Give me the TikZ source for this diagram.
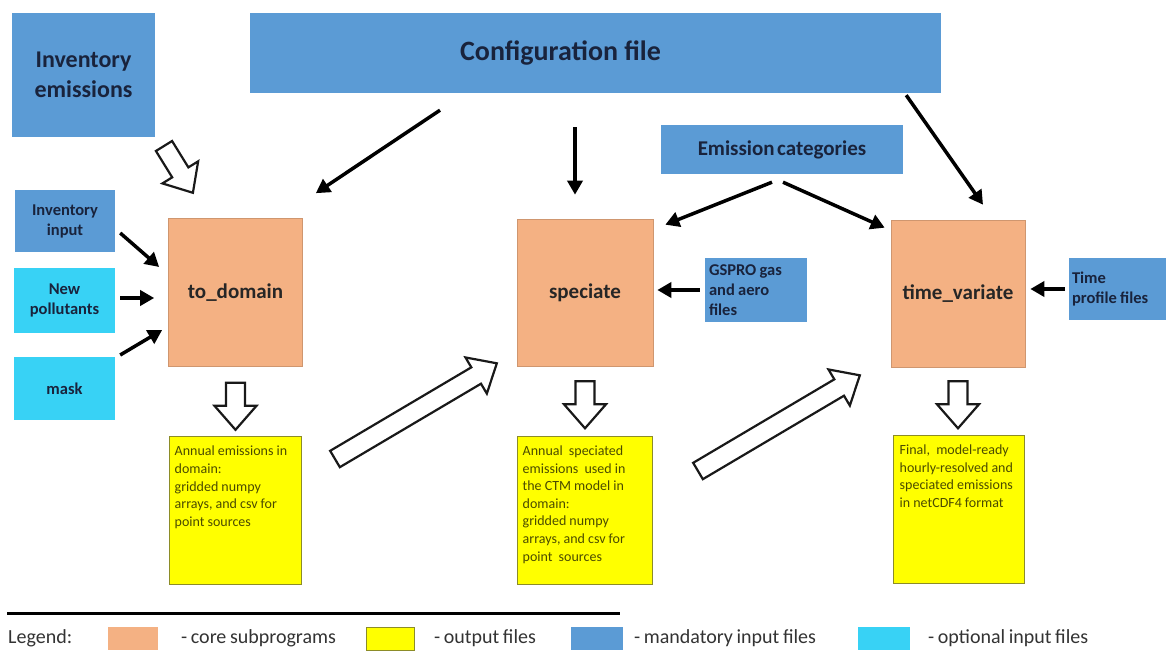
\documentclass[tikz,border=0pt]{standalone}
\usepackage{fontspec}
\setmainfont{Carlito}
\usetikzlibrary{arrows.meta,calc}
\definecolor{mblue}{RGB}{91,155,213}
\definecolor{ocyan}{RGB}{56,210,245}
\definecolor{salmon}{RGB}{244,177,131}
\definecolor{oyellow}{RGB}{255,255,0}
\definecolor{navy}{RGB}{25,35,60}
\definecolor{olivetxt}{RGB}{75,75,0}
\definecolor{yborder}{RGB}{140,140,40}
\newcommand\mysp[1]{\spaceskip=#1em\relax}
\tikzset{
 box/.style={rectangle, inner sep=0pt, font=\bfseries, text=navy, align=center},
 mand/.style={box, fill=mblue},
 opt/.style={box, fill=ocyan},
 small/.style={font={\bfseries\fontsize{16.5}{20}\selectfont}, execute at begin node=\mysp{0.2}},
 core/.style={box, fill=salmon, draw=salmon!85!black, line width=0.6pt, text=black!85, minimum width=134pt, minimum height=148pt, font=\bfseries\fontsize{21}{25}\selectfont},
 outbox/.style={rectangle, fill=oyellow, draw=yborder, line width=1pt, minimum height=148pt},
 outtext/.style={anchor=north west, align=left, text=olivetxt, font={\fontsize{14}{17.6}\selectfont}, execute at begin node=\mysp{0.22}, inner sep=0pt},
 arr/.style={line width=3.5pt, -{Triangle[length=14pt,width=15pt]}},
 hollow/.style={draw=black!90, line width=2.2pt, fill=white, line join=miter},
 pics/barrow/.style={code={\draw[hollow] (0,-9.5) -- (#1-24,-9.5) -- (#1-24,-21) -- (#1,0) -- (#1-24,21) -- (#1-24,9.5) -- (0,9.5) -- cycle;}},
 legtext/.style={anchor=west, inner sep=0pt, text=black!80, font={\fontsize{20}{22}\selectfont\mysp{0.18}}},
 legsq/.style={rectangle, inner sep=0pt, minimum height=23pt},
}
\begin{document}
\begin{tikzpicture}[x=1pt,y=-1pt]
\useasboundingbox[fill=white] (0,0) rectangle (1166,652);

% input boxes
\node[mand, minimum width=143pt, minimum height=124pt, font=\bfseries\fontsize{24}{30}\selectfont] (invem) at (83.5,75) {Inventory\\emissions};
\node[mand, minimum width=691pt, minimum height=80pt, font=\bfseries\fontsize{28}{32}\selectfont] (config) at (595.5,53) {\hspace*{-70pt}Configuration file};
\node[mand, minimum width=242pt, minimum height=49pt, font={\bfseries\fontsize{21}{24}\selectfont\mysp{0.12}}] (emcat) at (782,149.5) {Emission categories};
\node[mand, small, minimum width=100pt, minimum height=62pt] (invin) at (65,221) {Inventory\\input};
\node[opt, small, minimum width=101pt, minimum height=65pt] (newpol) at (64.5,300.5) {New\\pollutants};
\node[opt, small, minimum width=101pt, minimum height=63pt] (mask) at (64.5,388.5) {mask};
\node[mand, small, minimum width=102pt, minimum height=64pt, align=left, text width=94pt] (gspro) at (756,290) {GSPRO gas\\and aero\\files};
\node[mand, small, minimum width=97pt, minimum height=62pt, align=left, text width=91pt] (tp) at (1117.5,289) {Time\\profile files};

% core subprograms
\node[core] (todomain) at (235.5,292.5) {to\_domain};
\node[core, minimum width=136pt, minimum height=147pt] (speciate) at (585,292.5) {speciate};
\node[core, minimum height=147pt] (timevar) at (958,293.5) {time\_variate};

% outputs
\node[outbox, minimum width=132pt] (out1) at (235,510.5) {};
\node[outbox, minimum width=135pt] (out2) at (584.5,510) {};
\node[outbox, minimum width=131pt] (out3) at (958.5,509) {};
\node[outtext] (t1) at ([xshift=6pt,yshift=-10pt]out1.north west) {Annual emissions in\\domain:\\gridded numpy\\arrays, and csv for\\point sources};
\node[outtext] (t2) at ([xshift=6pt,yshift=-10pt]out2.north west) {Annual \ speciated\\emissions \ used in\\the CTM model in\\domain:\\gridded numpy\\arrays, and csv for\\point \ sources};
\node[outtext] (t3) at ([xshift=7pt,yshift=-10pt]out3.north west) {Final, \ model-ready\\hourly-resolved and\\speciated emissions\\in netCDF4 format};

% black arrows
\draw[arr] ([xshift=5pt,yshift=-12pt]invin.east) -- ([xshift=-9pt,yshift=25.5pt]todomain.west);
\draw[arr] ([xshift=5pt,yshift=2.5pt]newpol.east) -- ([xshift=-14pt,yshift=-5.5pt]todomain.west);
\draw[arr] ([xshift=5pt,yshift=33.5pt]mask.east) -- ([xshift=-6pt,yshift=-37.5pt]todomain.west);
\draw[arr] ([xshift=-155.5pt,yshift=-17pt]config.south) -- ([xshift=13pt,yshift=25pt]todomain.north east);
\draw[arr] ([xshift=-20.5pt,yshift=-34pt]config.south) -- ([xshift=-10pt,yshift=24pt]speciate.north);
\draw[arr] ([xshift=-35pt,yshift=-2pt]config.south east) -- ([xshift=25pt,yshift=15pt]timevar.north);
\draw[arr] ([xshift=-10pt,yshift=-8pt]emcat.south) -- ([xshift=12pt,yshift=-6pt]speciate.north east);
\draw[arr] ([xshift=1pt,yshift=-8pt]emcat.south) -- ([xshift=-6pt,yshift=-8pt]timevar.north west);
\draw[arr] ([xshift=-5pt]gspro.west) -- ([xshift=4pt]gspro.west -| speciate.east);
\draw[arr] ([xshift=-4pt]tp.west) -- ([xshift=5pt]tp.west -| timevar.east);

% hollow block arrows
\pic[rotate=-58.3] at (164,146) {barrow=55};
\pic[rotate=-90] at ([yshift=-16pt]todomain.south) {barrow=47};
\pic[rotate=-90] at ([yshift=-15pt]speciate.south) {barrow=47};
\pic[rotate=-90] at ([yshift=-14pt]timevar.south) {barrow=47};
\pic[rotate=30.6] at (335,459) {barrow=188};
\pic[rotate=30.6] at (698,471) {barrow=188};

% legend
\draw[line width=3pt] (7,613) -- (620,613);
\node[legtext] (lg) at (8,638) {Legend:};
\node[legsq, fill=salmon, minimum width=50pt] (sq1) at (133,638.5) {};
\node[legtext] (lt1) at (181,638) {- core subprograms};
\node[legsq, fill=oyellow, draw=yborder, minimum width=48pt] (sq2) at (390,638.5) {};
\node[legtext] (lt2) at (434,638) {- output files};
\node[legsq, fill=mblue, minimum width=52pt] (sq3) at (597,638.5) {};
\node[legtext] (lt3) at (634,638) {- mandatory input files};
\node[legsq, fill=ocyan, minimum width=52pt] (sq4) at (884,638.5) {};
\node[legtext] (lt4) at (928,638) {- optional input files};
\end{tikzpicture}
\end{document}
